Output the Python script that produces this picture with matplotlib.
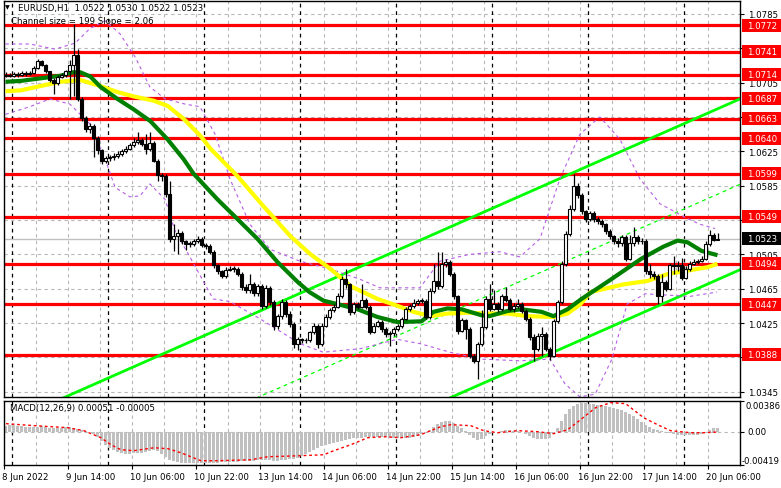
import matplotlib
matplotlib.use("Agg")
import matplotlib.pyplot as plt
import matplotlib.transforms as mtransforms
from matplotlib.patches import Rectangle

W, H = 781, 489
FONT = "DejaVu Sans"
FS = 6.2

# --- data: EURUSD H1, 8 Jun 22:00 -> 20 Jun 08:00, prices in pips above 1.0000 ---
first_open = 713
close_p = [714, 713, 715, 714, 716, 715, 716, 722, 730, 726, 718, 708, 704, 712, 714, 718,
           726, 737, 686, 664, 651, 655, 641, 626, 614, 617, 618, 620, 622, 625, 628, 632,
           636, 638, 634, 628, 635, 614, 597, 596, 575, 523, 526, 530, 520, 517, 517, 521,
           523, 516, 515, 508, 492, 485, 480, 487, 488, 488, 482, 467, 464, 471, 460, 468,
           445, 466, 450, 421, 433, 450, 436, 424, 400, 406, 405, 405, 414, 422, 400, 422,
           432, 440, 444, 456, 476, 470, 438, 447, 444, 452, 444, 415, 422, 426, 418, 412,
           413, 418, 421, 430, 441, 445, 448, 451, 451, 432, 462, 474, 468, 494, 496, 482,
           456, 416, 428, 418, 387, 381, 400, 420, 453, 441, 447, 441, 456, 452, 441, 445,
           447, 439, 430, 409, 395, 410, 412, 395, 387, 427, 449, 494, 529, 558, 585, 574,
           555, 546, 553, 546, 544, 540, 532, 526, 520, 518, 525, 500, 518, 525, 520, 521,
           485, 482, 480, 457, 473, 465, 492, 491, 493, 478, 488, 494, 496, 497, 500, 517,
           528, 522, 523]
high_p = [717, 716, 717, 717, 718, 718, 719, 724, 733, 731, 727, 719, 710, 714, 716, 720,
          731, 773, 744, 688, 666, 658, 657, 643, 628, 620, 621, 623, 625, 628, 631, 635,
          640, 647, 640, 645, 648, 637, 616, 600, 598, 590, 540, 535, 532, 522, 520, 523,
          526, 525, 518, 517, 510, 494, 487, 490, 491, 491, 490, 484, 470, 482, 473, 471,
          470, 469, 468, 452, 436, 453, 452, 439, 426, 409, 408, 408, 416, 425, 424, 425,
          435, 443, 447, 460, 480, 488, 472, 450, 450, 470, 454, 446, 425, 429, 428, 420,
          416, 420, 424, 432, 444, 447, 453, 453, 454, 453, 466, 494, 508, 508, 500, 498,
          484, 458, 431, 430, 420, 389, 403, 440, 456, 470, 464, 449, 459, 467, 454, 448,
          453, 449, 441, 432, 412, 413, 420, 414, 397, 430, 452, 497, 532, 562, 599, 588,
          576, 557, 556, 555, 549, 546, 542, 534, 528, 524, 528, 527, 527, 537, 527, 524,
          523, 494, 486, 482, 482, 475, 495, 503, 497, 501, 491, 497, 499, 500, 503, 520,
          533, 530, 530]
low_p = [711, 711, 712, 712, 713, 713, 714, 715, 721, 724, 716, 706, 692, 702, 710, 712,
         686, 690, 684, 660, 648, 646, 618, 622, 610, 611, 614, 615, 617, 620, 623, 626,
         630, 634, 631, 622, 625, 612, 590, 590, 572, 519, 509, 505, 517, 510, 513, 515,
         518, 513, 511, 505, 489, 482, 477, 478, 485, 484, 480, 464, 460, 460, 457, 457,
         441, 442, 446, 417, 418, 430, 432, 420, 396, 394, 402, 402, 403, 412, 396, 398,
         420, 430, 438, 442, 454, 466, 434, 436, 441, 442, 441, 412, 413, 420, 415, 409,
         398, 410, 416, 419, 428, 439, 443, 446, 448, 430, 430, 460, 465, 466, 490, 480,
         453, 412, 414, 406, 384, 378, 360, 398, 418, 439, 440, 438, 439, 450, 439, 438,
         443, 437, 427, 405, 381, 392, 387, 392, 382, 385, 425, 447, 491, 526, 555, 571,
         552, 543, 544, 543, 540, 537, 529, 523, 517, 514, 515, 497, 498, 515, 517, 517,
         482, 478, 476, 447, 450, 462, 463, 482, 486, 475, 476, 485, 492, 494, 496, 498,
         515, 520, 522]

# moving averages (bar index, pips)
green_b = [0, 3.75, 8.75, 13.75, 16.75, 18.75, 21.25, 23.75, 28, 32, 36.25, 40.5, 44.5, 47,
           53, 58, 63, 68, 73, 76, 79.5, 83, 88, 93, 98, 104, 107, 110.5, 114, 119, 121,
           125.5, 129, 134, 137, 140.5, 144, 150.5, 159, 164.5, 168, 170.5, 174, 178]
green_p = [706, 707, 710, 713, 717, 717, 712, 700, 686, 674, 660, 639, 616, 599, 569, 546,
           523, 496, 473, 461, 451, 447, 441, 432, 426, 427, 438, 442, 441, 434, 433, 439,
           441, 438, 433, 441, 453, 473, 500, 514, 521, 519, 509, 504]
yellow_b = [0, 3.75, 8.75, 13.75, 18.75, 23.75, 28, 32, 37, 40.5, 44.5, 48.75, 51.25, 58,
            64.5, 71.25, 76.25, 81.25, 86.25, 93, 98, 102, 106.25, 110.5, 115.5, 120.5,
            125.5, 130.5, 137, 140.5, 143.75, 146.25, 154.5, 160.5, 165.5, 170.5, 175.5, 178]
yellow_p = [695, 696, 701, 706, 708, 701, 694, 689, 684, 678, 663, 643, 628, 596, 561, 526,
            505, 488, 468, 453, 445, 438, 433, 436, 437, 436, 436, 433, 432, 436, 447, 461,
            470, 474, 482, 486, 490, 494]

# envelope bands (bar index, pips)
upper_b = [0, 6.1, 12.4, 17.4, 21.1, 24.9, 28.6, 32.4, 36.1, 39.9, 44.9, 48.6, 52.4, 56.1,
           61.1, 66.1, 73.6, 81.1, 88.6, 93.6, 103.6, 108.6, 116.1, 123.6, 128.6, 133.6,
           138.6, 143.6, 148.6, 153.6, 158.6, 163.6, 169.9, 173.6, 177.4]
upper_p = [750, 750, 744, 751, 768, 777, 762, 735, 700, 686, 680, 677, 645, 593, 540, 511,
           497, 488, 476, 466, 466, 497, 505, 508, 502, 523, 593, 645, 665, 639, 593, 564,
           548, 540, 535]
lower_b = [0, 6.1, 11.1, 16.1, 21.1, 24.9, 27.4, 31.1, 33.6, 36.1, 39.9, 42.4, 46.1, 51.9,
           56.1, 63.6, 73.6, 79.4, 88.6, 97.9, 103.6, 111.1, 118.6, 128.6, 136.1, 139.9,
           143.6, 147.4, 151.6, 155.4, 159.9, 171.1, 177.9]
lower_p = [668, 677, 686, 680, 657, 616, 583, 572, 573, 587, 569, 532, 502, 453, 450, 430,
           401, 391, 395, 406, 401, 391, 383, 381, 383, 354, 339, 342, 383, 447, 459, 456,
           461]

# regression channel ends (bar 0 and right edge)
chan_b = [0, 183.6]
chan_upper = [308, 686]
chan_mid = [208.5, 586.5]
chan_lower = [109, 487]

levels = [1.0772, 1.0741, 1.0714, 1.0687, 1.0663, 1.0640, 1.0599, 1.0549, 1.0494,
          1.0447, 1.0388]
price_ticks = [1.0345, 1.0385, 1.0425, 1.0465, 1.0505, 1.0545, 1.0585, 1.0625, 1.0665,
               1.0705, 1.0745, 1.0785]
hidden_ticks = [1.0385, 1.0545, 1.0665, 1.0745]   # covered by level boxes
last_price = 1.0523

# MACD main (histogram) and signal, units of 1e-5
macd_hist = [76, 88, 88, 76, 76, 63, 63,
             63, 63, 76, 63, 50, 50, 50, 50, 63,
             63, 50, 38, 25, 13, 0, -25,
             -63, -113, -164, -202, -227,
             -252, -265, -277, -277, -265, -265, -265, -252, -239,
             -227, -239, -277, -315,
             -353, -365, -378, -391, -391, -391, -391, -391, -391,
             -391, -391, -391, -391, -378, -378, -378, -378, -378, -365, -365, -365, -365, -353, -353,
             -353, -353, -365, -365, -353, -353, -340, -340, -328, -302,
             -277, -252, -227, -202, -176, -164, -151,
             -139, -126, -113, -101, -88,
             -76, -76, -76, -63, -63, -63, -63, -63, -63, -63, -76, -76, -76,
             -76, -76, -63, -50, -25,
             0, 25, 63, 101, 126, 139, 139, 113,
             76, 50, 13,
             -38, -76, -101, -88,
             -50, -25, -13, 0, 13,
             25, 25, 13, 13, 0,
             -25, -50, -76, -88, -88, -88, -76,
             -25, 50, 139, 227,
             290, 328, 353, 365, 365, 353, 353, 340, 340, 328, 315, 302, 290, 277, 252, 227, 202, 164,
             126, 88, 63, 38, 25, 13, 0, -13, -25,
             -38, -38, -38, -38, -38, -38, -25, -13,
             25, 50, 51]
sig_b = [0, 7, 15.5, 19.5, 23.75, 26.25, 28.75, 32, 37, 40.5, 43.75, 48.75, 53, 61.25, 65.5,
         73.75, 79.5, 82, 86.25, 90.5, 94.5, 98.75, 103.75, 108.75, 111.25, 116.25, 119.5,
         123, 128, 133, 137, 140.5, 143.75, 147.5, 151.25, 155, 159.5, 163, 166.25, 171.25,
         174.5, 178]
sig_v = [101, 76, 50, 13, -76, -164, -227, -239, -202, -214, -265, -365, -365, -353, -315,
         -302, -290, -239, -164, -76, -63, -76, -38, 63, 88, 76, 13, -13, 13, 0, -25, 25,
         151, 302, 365, 353, 176, 88, 13, -13, -13, -5]

date_bars = [0, 16, 32, 48, 64, 80, 96, 112, 128, 144, 160, 176]
date_labels = ["8 Jun 2022", "9 Jun 14:00", "10 Jun 06:00", "10 Jun 22:00", "13 Jun 14:00",
               "14 Jun 06:00", "14 Jun 22:00", "15 Jun 14:00", "16 Jun 06:00", "16 Jun 22:00",
               "17 Jun 14:00", "20 Jun 06:00"]
day_sep_bars = [2, 26, 50, 74, 98, 122, 146, 170]

# --- figure -----------------------------------------------------------------
P = lambda v: 1 + v / 10000.0
E = lambda v: v / 100000.0
n = len(close_p)
opens = [P(first_open)] + [P(c) for c in close_p[:-1]]
closes = [P(c) for c in close_p]
highs = [P(h) for h in high_p]
lows = [P(l) for l in low_p]

fig = plt.figure(figsize=(W / 100, H / 100), dpi=100)
ax = fig.add_axes([4 / W, 1 - 398 / H, 736 / W, 396 / H])
axm = fig.add_axes([4 / W, 1 - 466 / H, 736 / W, 64 / H])
XL = (-0.375, 183.625)
for a in (ax, axm):
    a.set_xlim(*XL)
    for s in a.spines.values():
        s.set_color("black"); s.set_linewidth(1.0)
ax.set_ylim(1.03388, 1.08001)
axm.set_ylim(-0.00419, 0.00386)

GRID = "#b8b8b8"
# grid
ax.hlines(price_ticks, *XL, colors=GRID, linestyles=(0, (3, 3)), lw=0.8, zorder=0)
for a in (ax, axm):
    for b in range(0, n, 8):
        a.axvline(b - 0.5, color=GRID, ls=(0, (3, 3)), lw=0.8, zorder=0)
    for b in day_sep_bars:
        a.axvline(b - 0.5, color="black", ls=(0, (3, 3)), lw=0.9, zorder=0.5)

# support / resistance levels and last price line
ax.hlines(levels, *XL, colors="#ff0000", lw=2.3, zorder=1)
ax.axhline(last_price, color="#c0c0c0", lw=1.0, zorder=1)

# channel
ax.plot(chan_b, [P(v) for v in chan_upper], color="#00ff00", lw=2.0, zorder=2)
ax.plot(chan_b, [P(v) for v in chan_lower], color="#00ff00", lw=2.0, zorder=2)
ax.plot(chan_b, [P(v) for v in chan_mid], color="#00ff00", lw=0.9, ls=(0, (3, 3)), zorder=2)

# envelopes
PURPLE = "#b65ee8"
ax.plot(upper_b, [P(v) for v in upper_p], color=PURPLE, lw=0.8, ls=(0, (3, 3)), zorder=2)
ax.plot(lower_b, [P(v) for v in lower_p], color=PURPLE, lw=0.8, ls=(0, (3, 3)), zorder=2)

# moving averages
ax.plot(yellow_b, [P(v) for v in yellow_p], color="#ffff00", lw=3.0, zorder=3,
        solid_capstyle="butt")
ax.plot(green_b, [P(v) for v in green_p], color="#008000", lw=3.0, zorder=3,
        solid_capstyle="butt")

# candles
xs = list(range(n))
ax.vlines(xs, lows, highs, colors="black", lw=0.9, zorder=4)
bottoms = [min(o, c) for o, c in zip(opens, closes)]
heights = [max(abs(c - o), 0.00007) for o, c in zip(opens, closes)]
faces = ["white" if c > o else "black" for o, c in zip(opens, closes)]
ax.bar(xs, heights, width=0.72, bottom=bottoms, color=faces, edgecolor="black",
       linewidth=0.8, zorder=5)

# right price scale
ax.set_xticks([])
ax.yaxis.tick_right()
ax.set_yticks(price_ticks)
ax.set_yticklabels(["" if t in hidden_ticks else f"{t:.4f}" for t in price_ticks],
                   fontsize=FS, family=FONT)
ax.tick_params(axis="y", direction="out", length=3, width=0.8, pad=2.5)
trans = mtransforms.blended_transform_factory(ax.transAxes, ax.transData)
box_h = 13 * (1.08001 - 1.03388) / 396
x0 = 1 + 1.5 / 736
for lv in levels + [last_price]:
    fc = "black" if lv == last_price else "#ff0000"
    ax.add_patch(Rectangle((x0, lv - box_h / 2), 41 / 736, box_h, transform=trans,
                           clip_on=False, fc=fc, ec="none", zorder=10))
    ax.text(1 + 7.5 / 736, lv, f"{lv:.4f}", transform=trans, color="white", fontsize=FS,
            family=FONT, va="center", ha="left", zorder=11, clip_on=False)

# MACD panel
axm.bar(xs, [E(v) for v in macd_hist], width=0.75, color="#c0c0c0", zorder=2)
axm.plot(sig_b, [E(v) for v in sig_v], color="#ff0000", lw=1.0, ls=(0, (2, 2)), zorder=3)
axm.axhline(0, color=GRID, ls=(0, (3, 3)), lw=0.8, zorder=1)
axm.yaxis.tick_right()
axm.set_yticks([0.00386, 0.0, -0.00419])
axm.set_yticklabels([])
axm.tick_params(axis="y", direction="out", length=3, width=0.8)
mt = mtransforms.blended_transform_factory(axm.transAxes, axm.transData)
axm.text(1 + 5 / 736, 0.00386, "0.00386", transform=mt, fontsize=6.1, family=FONT,
         va="top", ha="left")
axm.text(1 + 7.5 / 736, 0.0, "0.00", transform=mt, fontsize=FS, family=FONT,
         va="center", ha="left")
axm.text(1 + 2 / 736, -0.00419, "-0.00419", transform=mt, fontsize=6.1, family=FONT,
         va="bottom", ha="left")
axm.set_xticks([b - 0.5 for b in date_bars])
axm.set_xticklabels([])
axm.tick_params(axis="x", direction="out", length=3, width=0.8)
dt = mtransforms.blended_transform_factory(axm.transData, axm.transAxes)
for b, lab in zip(date_bars, date_labels):
    axm.text(b - 0.9, -12 / 64, lab, transform=dt, fontsize=FS, family=FONT,
             va="center", ha="left", clip_on=False)

# header texts
fig.text(5 / W, 1 - 8 / H, "\u25bc", fontsize=4.5, family=FONT, va="center", ha="left")
fig.text(18 / W, 1 - 8 / H, "EURUSD,H1  1.0522 1.0530 1.0522 1.0523", fontsize=FS,
         family=FONT, va="center", ha="left")
fig.text(11 / W, 1 - 22 / H, "Channel size = 199 Slope = 2.06", fontsize=FS, family=FONT,
         va="center", ha="left")
fig.text(10 / W, 1 - 409 / H, "MACD(12,26,9) 0.00051 -0.00005", fontsize=FS,
         family=FONT, va="center", ha="left")

fig.savefig("out.png", dpi=100, facecolor="white")
